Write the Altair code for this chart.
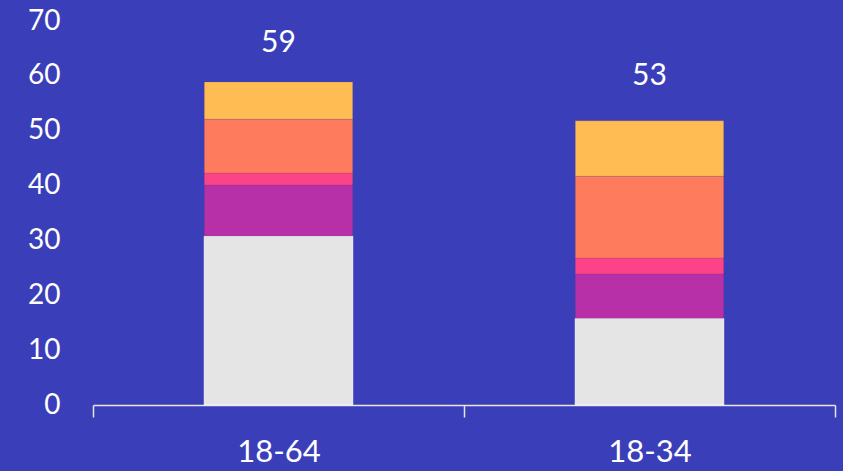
import altair as alt
import pandas as pd

groups = ["18-64", "18-34"]
segments = ["A", "B", "C", "D", "E"]
seg_colors = ["#e5e5e5", "#b730a8", "#fc4387", "#ff7b5e", "#ffbc52"]
values_18_64 = [30.8, 9.3, 2.2, 9.8, 6.8]
values_18_34 = [15.8, 8.1, 2.9, 14.9, 10.1]
totals = [59, 53]

rows = []
for g, vals in zip(groups, [values_18_64, values_18_34]):
    for i, (s, v) in enumerate(zip(segments, vals)):
        rows.append({"group": g, "segment": s, "order": i, "value": v})
df = pd.DataFrame(rows)
tot_df = pd.DataFrame({"group": groups, "total": totals})

FONT = "Lato"
x_enc = alt.X(
    "group:N",
    sort=groups,
    scale=alt.Scale(paddingInner=0, paddingOuter=0),
    axis=alt.Axis(
        title=None, labelAngle=0, labelFontSize=31, labelColor="white",
        labelFont=FONT, labelPadding=20, domainColor="#e6e6e6", domainWidth=1.5,
        tickColor="#e6e6e6", tickWidth=1.5, tickSize=12, tickBand="extent", grid=False,
    ),
)
y_scale = alt.Scale(domain=[0, 70], nice=False)

bars = alt.Chart(df).mark_bar(width=alt.RelativeBandSize(0.4), strokeWidth=1).encode(
    x=x_enc,
    y=alt.Y(
        "value:Q", stack="zero", scale=y_scale,
        axis=alt.Axis(
            title=None, values=[0, 10, 20, 30, 40, 50, 60, 70], domain=False, ticks=False,
            grid=False, labelFontSize=28, labelColor="white", labelFont=FONT, labelPadding=33,
        ),
    ),
    color=alt.Color("segment:N", scale=alt.Scale(domain=segments, range=seg_colors), legend=None),
    order=alt.Order("order:Q", sort="ascending"),
    stroke=alt.condition(alt.datum.segment == "A", alt.value("#f4f4f4"), alt.value("rgba(90,60,110,0.18)")),
)

labels = alt.Chart(tot_df).mark_text(
    baseline="alphabetic", dy=-29, fontSize=30, color="white", font=FONT
).encode(
    x=alt.X("group:N", sort=groups),
    y=alt.Y("total:Q", scale=y_scale),
    text="total:Q",
)

chart = alt.layer(bars, labels).properties(
    width=742, height=384, background="#3b3eb9",
    autosize=alt.AutoSizeParams(type="none"),
    padding={"left": 93, "top": 21, "right": 8, "bottom": 66},
).configure_view(stroke=None)

chart.save("out.html", embed_options={"renderer": "svg", "actions": False})
